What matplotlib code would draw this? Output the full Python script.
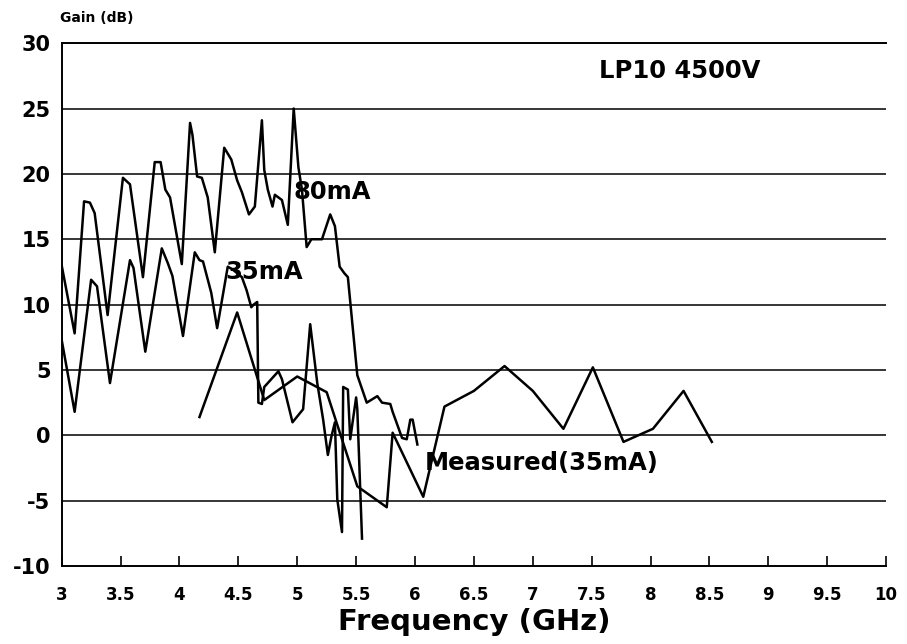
import numpy as np
import matplotlib
matplotlib.use('Agg')
import matplotlib.pyplot as plt

plt.rcParams['font.family'] = ['DejaVu Sans']
plt.rcParams['font.weight'] = 'bold'

# Расчётное усиление, ток пучка 80 мА
f_80 = [3.00, 3.11, 3.19, 3.24, 3.28, 3.39, 3.52, 3.58, 3.69, 3.79, 3.84, 3.88,
        3.92, 4.02, 4.09, 4.11, 4.15, 4.19, 4.24, 4.30, 4.38, 4.44, 4.49, 4.53,
        4.59, 4.64, 4.70, 4.72, 4.75, 4.79, 4.81, 4.87, 4.92, 4.97, 5.01, 5.04,
        5.08, 5.12, 5.21, 5.28, 5.32, 5.36, 5.40, 5.43, 5.51, 5.59, 5.68, 5.72,
        5.79, 5.81, 5.89, 5.93, 5.96, 5.98, 6.02]
g_80 = [13.0, 7.8, 17.9, 17.8, 17.0, 9.2, 19.7, 19.2, 12.1, 20.9, 20.9, 18.8,
        18.2, 13.1, 23.9, 23.0, 19.8, 19.7, 18.2, 14.0, 22.0, 21.1, 19.5, 18.6,
        16.9, 17.5, 24.1, 20.3, 18.8, 17.5, 18.4, 18.0, 16.1, 25.0, 20.5, 18.8,
        14.4, 15.0, 15.0, 16.9, 16.0, 12.9, 12.4, 12.1, 4.6, 2.5, 3.0, 2.5,
        2.4, 1.8, -0.2, -0.3, 1.2, 1.2, -0.7]

# Расчётное усиление, 35 мА
f_35 = [3.00, 3.11, 3.25, 3.30, 3.41, 3.58, 3.61, 3.71, 3.85, 3.90, 3.94, 4.03,
        4.13, 4.17, 4.20, 4.27, 4.32, 4.41, 4.45, 4.53, 4.57, 4.61, 4.63, 4.66,
        4.67, 4.70, 4.72, 4.84, 4.87, 4.96, 5.05, 5.11, 5.17, 5.22, 5.26, 5.29,
        5.32, 5.34, 5.38, 5.39, 5.43, 5.45, 5.47, 5.50, 5.51, 5.55]
g_35 = [7.3, 1.8, 11.9, 11.4, 4.0, 13.4, 12.8, 6.4, 14.3, 13.2, 12.2, 7.6,
        14.0, 13.4, 13.3, 10.9, 8.2, 12.9, 12.7, 12.1, 11.1, 9.8, 10.0, 10.2,
        2.5, 2.4, 3.7, 4.9, 4.3, 1.0, 2.0, 8.5, 4.0, 1.2, -1.5, -0.1,
        1.0, -4.9, -7.4, 3.7, 3.5, -0.3, 1.0, 2.9, 2.0, -7.9]

# Измеренное усиление, 35 мА
f_meas = [4.17, 4.49, 4.72, 5.00, 5.25, 5.51, 5.76, 5.81, 6.07, 6.25, 6.50,
          6.76, 7.00, 7.26, 7.51, 7.77, 8.02, 8.28, 8.52]
g_meas = [1.4, 9.4, 2.7, 4.5, 3.3, -3.9, -5.5, 0.2, -4.7, 2.2, 3.4,
          5.3, 3.4, 0.5, 5.2, -0.5, 0.5, 3.4, -0.5]

x_ticks = np.arange(3, 10.01, 0.5)
x_labels = ['3', '3.5', '4', '4.5', '5', '5.5', '6', '6.5', '7', '7.5',
            '8', '8.5', '9', '9.5', '10']
y_ticks = np.arange(-10, 31, 5)

fig = plt.figure(figsize=(9.07, 6.44), dpi=100)
ax = fig.add_axes([0.068, 0.121, 0.909, 0.812])

# Горизонтальная сетка
for y in y_ticks[1:]:
    ax.axhline(y, color='black', lw=1.1, zorder=1)

ax.plot(f_80, g_80, color='black', lw=1.8, zorder=3)
ax.plot(f_35, g_35, color='black', lw=1.8, zorder=3)
ax.plot(f_meas, g_meas, color='black', lw=1.8, zorder=3)

ax.set_xlim(3, 10)
ax.set_ylim(-10, 30)
ax.set_xticks(x_ticks)
ax.set_xticklabels(x_labels, fontsize=12, fontweight='bold')
ax.set_yticks(y_ticks)
ax.set_yticklabels([str(v) for v in y_ticks], fontsize=15, fontweight='bold')
ax.tick_params(axis='x', direction='in', length=7, width=1.2, pad=14)
ax.tick_params(axis='y', length=0, pad=8)

ax.spines['right'].set_visible(False)
for s in ['left', 'bottom', 'top']:
    ax.spines[s].set_linewidth(1.4)

ax.set_xlabel('Frequency (GHz)', fontsize=21, fontweight='bold', labelpad=3)

# Подписи кривых
bold = dict(fontsize=17.5, fontweight='bold', zorder=4)
ax.text(4.97, 18.6, '80mA', va='center', ha='left', **bold)
ax.text(4.39, 12.5, '35mA', va='center', ha='left', **bold)
ax.text(6.08, -2.1, 'Measured(35mA)', va='center', ha='left', **bold)
ax.text(7.56, 27.9, 'LP10 4500V', va='center', ha='left', **bold)
fig.text(0.066, 0.972, 'Gain (dB)', fontsize=10, fontweight='bold',
         va='center', ha='left')

fig.savefig('out.png', dpi=100)
